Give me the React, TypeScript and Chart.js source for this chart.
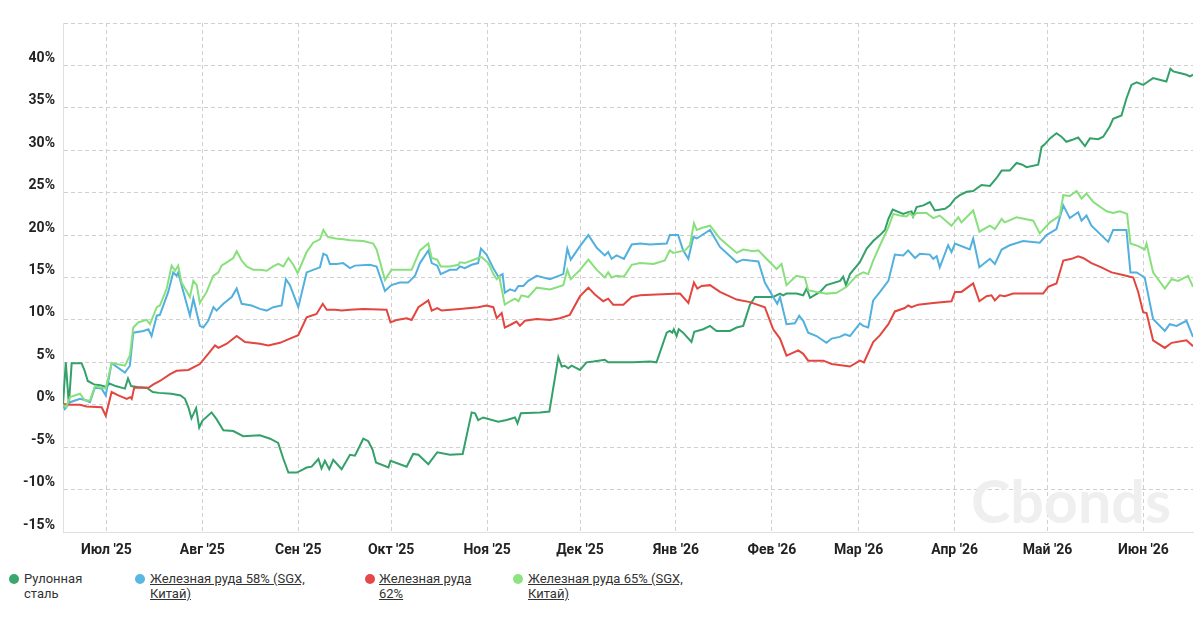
import React, { useEffect, useRef } from "react";
import { Chart, registerables } from "chart.js";

Chart.register(...registerables);

// x values are day offsets from 17 Jun 2025 (day 0) to 17 Jun 2026 (day 365)
const xMin = 0;
const xMax = 365;
const monthTickDays = [14, 45, 76, 106, 137, 167, 198, 229, 257, 288, 318, 349];
const monthTickLabels = ["Июл '25", "Авг '25", "Сен '25", "Окт '25", "Ноя '25", "Дек '25", "Янв '26", "Фев '26", "Мар '26", "Апр '26", "Май '26", "Июн '26"];
const yMin = -15;
const yMax = 45;
const yStep = 5;

const seriesNames = ["Рулонная сталь", "Железная руда 58% (SGX, Китай)", "Железная руда 62%", "Железная руда 65% (SGX, Китай)"];
const legendLines = [["Рулонная", "сталь"], ["Железная руда 58% (SGX,", "Китай)"], ["Железная руда", "62%"], ["Железная руда 65% (SGX,", "Китай)"]];
const lineColors = ["#34a06a", "#52b0de", "#e2463f", "#88e07c"];
const markerColors = ["#3aa86e", "#5ab6e2", "#e6484a", "#8de37f"];

const steelDays = [0, 0.9, 1.9, 2.8, 6, 7, 8, 10, 12, 14, 15, 17, 20, 21, 22, 24, 27, 29, 31, 35, 38, 39.4, 40.5, 41.5, 43, 44, 45, 48, 49.6, 51.8, 55, 58.2, 63.6, 66.9, 69.5, 71.2, 72.8, 75.5, 77.1, 78.7, 80.3, 82.5, 83.5, 84.6, 86, 87.3, 90, 92.7, 94.3, 97, 98.6, 100, 101.1, 105.1, 105.8, 111, 113.1, 114.8, 118, 120.9, 125, 129.1, 132, 133.1, 134.1, 135.7, 140.6, 143.3, 146, 146.8, 147.9, 154.1, 157.1, 160, 161.1, 162.1, 163.2, 164.3, 167, 169.1, 171.3, 175, 176.1, 184.2, 189.6, 191.7, 195, 196, 196.8, 197.3, 198.2, 198.9, 200.3, 203, 203.9, 206.8, 209, 211.1, 215.4, 217.6, 219.7, 221.9, 223.5, 229.4, 231.6, 232.6, 233.7, 236.9, 239.1, 240.2, 241.3, 244.5, 246.6, 251, 252, 252.9, 254.2, 257.4, 259.6, 261.7, 263.9, 265.5, 266.6, 268, 271.4, 273, 274.1, 274.6, 275.7, 277.9, 280, 281.6, 284.9, 286.5, 288.1, 289.7, 291.9, 294, 296.7, 299.4, 301.5, 303.2, 305.8, 308, 309.9, 311.2, 315, 316.1, 317.1, 318.8, 320.9, 322.5, 324.1, 325.8, 327.9, 330.1, 331.7, 334.4, 336, 338.1, 339.2, 341.9, 343.5, 345.1, 346.8, 348.9, 350.5, 352.1, 356.4, 357.7, 358.6, 360.7, 362.9, 364, 365];
const steelValues = [0, 5.0, 0, 4.9, 4.9, 4.0, 2.8, 2.4, 2.3, 2.1, 2.5, 2.2, 1.9, 3.1, 2.2, 2.1, 2.0, 1.5, 1.4, 1.3, 1.1, 0.7, -0.3, -1.6, -0.4, -2.7, -1.9, -0.9, -1.7, -3.0, -3.1, -3.7, -3.6, -4.0, -4.5, -6.4, -8.0, -8.0, -7.7, -7.4, -7.3, -6.4, -7.5, -6.6, -7.6, -6.5, -7.6, -5.9, -6.0, -4.0, -4.3, -5.3, -6.8, -7.4, -6.6, -7.3, -5.8, -5.9, -7.0, -5.6, -5.9, -5.8, -0.9, -1.0, -1.8, -1.5, -2.0, -1.8, -1.5, -2.2, -1.0, -0.9, -0.8, 5.6, 4.5, 4.6, 4.3, 4.6, 4.1, 5.0, 5.1, 5.3, 5.0, 5.0, 5.1, 5.0, 8.5, 8.7, 8.5, 8.9, 8.1, 8.9, 8.5, 7.4, 8.6, 8.9, 9.3, 8.7, 8.7, 9.1, 9.3, 11.8, 12.7, 12.7, 13.1, 12.9, 13.1, 13.1, 12.9, 13.7, 12.6, 13.3, 14.1, 14.6, 15.1, 14.1, 15.4, 16.8, 18.4, 19.3, 20.0, 20.6, 21.9, 23.0, 22.5, 22.7, 22.8, 22.2, 23.3, 23.5, 23.9, 22.9, 23.1, 23.5, 24.3, 24.7, 25.1, 25.2, 25.9, 25.8, 26.7, 27.6, 27.6, 28.5, 28.3, 28.0, 28.3, 30.4, 30.7, 31.4, 32.0, 31.6, 31.0, 31.2, 31.5, 30.5, 31.4, 31.3, 31.6, 32.8, 33.7, 34.1, 36.1, 37.7, 38.0, 37.7, 38.1, 38.5, 38.1, 39.6, 39.3, 39.1, 38.9, 38.7, 38.9];

const ore58Days = [0, 0.6, 2.3, 5.5, 7.6, 8.7, 10.3, 12.5, 13.8, 15.7, 20, 21.6, 22.7, 26, 27.6, 28.6, 30.3, 31.3, 34, 35.6, 36.7, 37.2, 38.3, 41, 42.1, 44.2, 45.3, 46.9, 48.6, 49.6, 51.8, 54.5, 56.1, 57.7, 60.9, 63.6, 65.8, 67.9, 70.6, 72, 73.3, 76, 78.7, 80.8, 83, 84.1, 85.2, 86.2, 88.4, 90.5, 92.7, 94.3, 99.1, 101.3, 104, 106.1, 108.8, 111.5, 113.7, 115.3, 118, 119.1, 120.9, 122, 125, 127.1, 128.2, 129.8, 132, 134.1, 135, 136.8, 139, 140.6, 142, 142.7, 144.4, 146, 147.1, 148.7, 150.3, 153, 157.3, 161.6, 162.9, 164, 167, 169.7, 172.4, 175, 176.1, 177.2, 178.8, 181.2, 183.7, 186.4, 189.6, 195, 196, 198.7, 200.3, 202, 203.6, 204.7, 209, 212.2, 217.6, 219.7, 221.9, 224.6, 226.7, 229.4, 230.7, 231.6, 233.7, 236.4, 237.8, 239.1, 240.7, 243.4, 246.6, 248.3, 250.9, 252.6, 254.2, 257.4, 258.5, 260.1, 261.7, 263.9, 266.6, 268.7, 271.4, 273, 275.2, 276.8, 280, 281.1, 282.2, 283.2, 285.9, 287, 288.1, 292.9, 294, 296, 299.4, 301, 303.2, 305.8, 310.1, 315.5, 317.7, 320.9, 323.1, 325.2, 327.9, 329, 330.6, 332.2, 337.6, 339.2, 343.5, 344.8, 346.8, 349.4, 352.1, 355.9, 357.5, 359.7, 362.9, 365];
const ore58Values = [0, -0.5, 0.3, 0.7, 0.5, 0.3, 2.0, 1.9, 1.1, 4.9, 3.8, 4.6, 8.5, 8.7, 8.9, 8.1, 10.5, 10.6, 13.3, 15.6, 15.2, 15.6, 14.1, 10.5, 12.5, 9.3, 9.1, 9.9, 11.5, 11.1, 11.9, 12.7, 13.7, 11.9, 11.7, 11.3, 11.1, 11.5, 11.7, 14.8, 14.1, 11.5, 15.6, 15.9, 16.2, 17.8, 17.6, 16.6, 16.6, 16.7, 16.1, 16.4, 16.5, 16.3, 13.4, 14.1, 14.4, 14.4, 15.2, 16.7, 18.2, 16.7, 16.4, 15.4, 15.9, 15.9, 16.3, 16.1, 16.5, 16.7, 18.4, 17.7, 16.1, 15.1, 15.4, 13.2, 13.6, 13.4, 14.0, 14.0, 14.6, 15.2, 14.8, 15.4, 18.4, 17.1, 18.7, 20.0, 18.5, 17.6, 18.0, 17.2, 17.6, 17.2, 18.9, 19.0, 18.9, 19.0, 20.0, 20.0, 18.2, 17.2, 19.8, 19.6, 20.6, 18.6, 16.8, 17.1, 17.0, 16.9, 14.4, 12.7, 11.9, 12.7, 9.5, 9.6, 10.5, 9.9, 8.5, 8.1, 7.3, 7.8, 8.0, 8.3, 8.1, 9.6, 9.3, 9.1, 12.3, 13.3, 14.6, 17.7, 17.6, 18.2, 17.3, 17.8, 17.7, 17.2, 17.5, 16.2, 18.8, 18.0, 19.0, 18.3, 19.6, 16.2, 17.2, 16.6, 18.3, 18.8, 19.3, 19.1, 20.0, 20.7, 23.5, 22.0, 22.7, 21.7, 22.3, 21.1, 19.2, 20.6, 20.6, 15.6, 15.6, 15.0, 10.1, 8.7, 9.5, 9.3, 9.9, 8.0];

const ore62Days = [0, 2.3, 5.5, 7.6, 12.5, 13.8, 15.7, 17.9, 20.6, 21.7, 22.2, 23, 27.6, 29.2, 31.3, 34.6, 36.7, 40.5, 44.2, 46.9, 49.1, 50.2, 52.9, 56.1, 58.8, 63.6, 66.3, 70.1, 73.3, 76, 78.7, 81.9, 83.9, 85.2, 87.9, 90, 92.7, 97, 104.5, 105.8, 107.8, 111, 112.6, 114.8, 118, 119.1, 120.9, 122.3, 128.2, 134.1, 136.8, 139, 140.1, 141.7, 142.7, 144.4, 146.5, 147.6, 149.2, 153, 157.3, 160.5, 163.7, 167, 169.7, 171.8, 174.5, 176.1, 177.7, 181, 183.7, 186.4, 191.7, 199.3, 202, 203.8, 204.9, 206.3, 209, 212.2, 217.6, 221.9, 226.7, 229.4, 231.6, 233.7, 237.5, 239.1, 240.7, 245.6, 248.3, 254.2, 257.4, 258.7, 261.7, 263.9, 266.6, 268.7, 271.9, 273, 274.1, 276.2, 281.1, 287, 288.1, 290.2, 294, 296, 298.3, 299.9, 301, 302.6, 304.2, 306.9, 316.6, 318.2, 320.9, 323.1, 325.8, 327.9, 329.5, 332.2, 335.4, 338.7, 342.4, 345.7, 347.3, 348.9, 350, 352.1, 355.9, 358.1, 362.9, 365];
const ore62Values = [0.1, 0, 0, -0.2, -0.3, -1.3, 1.5, 1.1, 0.7, 0.9, 0.7, 2.0, 2.0, 2.4, 2.8, 3.6, 4.0, 4.1, 4.8, 6.0, 7.0, 6.7, 7.2, 8.1, 7.4, 7.2, 7.0, 7.3, 7.8, 8.2, 10.3, 10.7, 11.9, 11.2, 11.2, 11.1, 11.2, 11.3, 11.2, 9.7, 10.0, 10.2, 10.0, 11.5, 12.3, 11.1, 11.4, 11.1, 11.3, 11.5, 11.7, 11.5, 10.2, 10.8, 9.1, 9.4, 9.8, 9.3, 9.9, 10.1, 10.0, 10.2, 10.6, 12.8, 13.8, 13.0, 12.2, 12.5, 11.8, 11.8, 12.7, 12.9, 13.0, 13.1, 12.0, 14.4, 13.7, 14.0, 14.1, 13.3, 12.4, 12.1, 11.5, 8.9, 7.8, 5.8, 6.4, 6.0, 5.2, 5.2, 4.8, 4.5, 5.2, 5.0, 7.4, 8.2, 9.5, 11.0, 11.4, 11.7, 11.5, 11.8, 12.0, 12.2, 13.3, 13.3, 14.3, 12.2, 12.8, 12.9, 12.3, 12.9, 12.8, 13.1, 13.1, 13.9, 14.3, 17.0, 17.2, 17.5, 17.3, 16.7, 16.2, 15.6, 15.3, 15.0, 13.3, 10.9, 10.8, 7.6, 6.7, 7.3, 7.6, 6.9];

const ore65Days = [0, 1, 2.3, 5.5, 7.1, 8.7, 10.3, 13.8, 15.7, 17.3, 20, 21.6, 22.7, 24.3, 27, 28.1, 30.3, 31.3, 33.5, 35.1, 36.2, 37.2, 38.3, 41, 42.1, 43.2, 44.2, 46.4, 48.5, 50.2, 51.2, 53.4, 55, 56.1, 57.7, 59.3, 61.5, 63.6, 65.8, 67.9, 69.5, 71.2, 72.8, 74.4, 75.8, 78.7, 80.8, 83, 84.1, 85.5, 88, 90.5, 92.7, 97, 100.2, 101.3, 104, 106.1, 112.6, 115.3, 118, 119.1, 120.9, 122, 125, 127.7, 128.2, 129.8, 132, 134.1, 135.2, 137.4, 139, 140.1, 140.9, 142.7, 144.4, 146, 147.1, 148.1, 150.3, 153, 157.3, 161.6, 162.9, 164, 167, 169.7, 172.4, 175, 176.1, 177.2, 178.8, 181.2, 183.7, 186.4, 190.7, 194.4, 196, 197.1, 200.9, 202.5, 203.8, 204.7, 206.8, 209, 212.2, 217.6, 219.7, 223, 224.6, 226.2, 230.5, 232.1, 233.7, 236.9, 239.6, 240.7, 243.4, 246.6, 249.9, 253.1, 256.3, 258.5, 260.1, 261.7, 263.9, 266.6, 268.2, 270.3, 272.5, 273.5, 274.6, 275.7, 278.9, 281.1, 283.2, 287, 289.2, 290.2, 294, 296, 299.4, 301, 303.2, 304.2, 308, 313.4, 315.5, 318.8, 322, 323.1, 325.2, 327.4, 329, 330.6, 332.8, 337.1, 339.2, 341.4, 343.7, 344.8, 347.3, 349.4, 350, 352.1, 355.9, 358.1, 360.2, 363.4, 365];
const ore65Values = [0, -0.3, 0.9, 1.3, 0.5, 0.5, 2.2, 1.9, 4.9, 4.8, 4.6, 5.8, 9.1, 9.7, 10.0, 9.5, 11.5, 11.7, 13.7, 16.4, 15.8, 16.4, 14.4, 12.7, 14.6, 14.1, 12.0, 13.3, 15.2, 15.6, 16.4, 16.9, 17.3, 18.1, 17.0, 16.3, 15.9, 15.9, 15.8, 16.3, 16.6, 16.3, 17.3, 16.5, 15.5, 18.0, 19.1, 19.5, 20.6, 19.8, 19.6, 19.5, 19.4, 19.3, 19.0, 18.3, 14.7, 15.9, 15.9, 18.2, 19.0, 17.3, 17.1, 16.3, 16.3, 16.5, 16.8, 16.7, 17.0, 17.3, 17.4, 16.7, 15.4, 14.8, 15.1, 11.8, 12.2, 12.5, 12.2, 12.9, 12.7, 13.8, 13.6, 14.1, 15.9, 14.8, 15.9, 17.1, 15.9, 15.0, 15.6, 15.0, 15.2, 15.1, 16.5, 16.7, 16.6, 17.0, 18.2, 17.9, 18.2, 18.8, 21.4, 20.6, 20.9, 21.1, 19.6, 17.9, 18.3, 18.1, 18.2, 17.6, 16.0, 16.6, 14.1, 15.2, 15.0, 13.5, 13.3, 13.1, 13.2, 13.9, 15.2, 15.6, 15.4, 17.0, 18.8, 20.9, 22.5, 22.3, 22.2, 22.6, 22.2, 22.6, 22.6, 22.0, 22.3, 21.1, 22.1, 21.5, 22.9, 20.4, 21.1, 20.7, 21.9, 21.5, 22.1, 21.7, 20.2, 21.5, 22.3, 24.7, 24.6, 25.2, 24.3, 24.9, 23.9, 22.8, 22.6, 22.8, 22.5, 19.0, 18.7, 18.3, 19.0, 15.6, 13.7, 14.8, 14.6, 15.2, 13.9];

const seriesDays = [steelDays, ore58Days, ore62Days, ore65Days];
const seriesValues = [steelValues, ore58Values, ore62Values, ore65Values];
const legendMarkerX = [14, 140, 370, 518];
const legendTextX = [24, 150, 379, 528];
const legendUnderline = [false, true, true, true];

const watermarkPlugin = {
  id: "watermark",
  beforeDatasetsDraw(chart: any) {
    const ctx = chart.ctx;
    ctx.save();
    ctx.font = "bold 60px Lato, 'DejaVu Sans', sans-serif";
    ctx.fillStyle = "#efefef";
    ctx.textBaseline = "alphabetic";
    const w = ctx.measureText("Cbonds").width;
    ctx.translate(971, 523);
    ctx.scale(200 / w, 1);
    ctx.fillText("Cbonds", 0, 0);
    ctx.restore();
  },
};

export default function App() {
  const ref = useRef<HTMLCanvasElement>(null);

  useEffect(() => {
    if (!ref.current) return;
    const datasets = seriesNames.map((name, i) => ({
      label: name,
      data: seriesDays[i].map((d, j) => ({ x: d, y: seriesValues[i][j] })),
      borderColor: lineColors[i],
      backgroundColor: lineColors[i],
      borderWidth: 2,
      pointRadius: 0,
      tension: 0,
      fill: false,
      order: 3 - i,
    }));
    const chart = new Chart(ref.current, {
      type: "line",
      data: { datasets },
      plugins: [watermarkPlugin],
      options: {
        animation: false,
        responsive: false,
        layout: { padding: { left: 0, top: 23, right: 10, bottom: 0 } },
        plugins: { legend: { display: false }, tooltip: { enabled: false } },
        scales: {
          x: {
            type: "linear",
            min: xMin,
            max: xMax,
            afterBuildTicks: (scale: any) => {
              scale.ticks = monthTickDays.map((v) => ({ value: v }));
            },
            afterFit: (scale: any) => {
              scale.height = 28;
            },
            ticks: {
              autoSkip: false,
              maxRotation: 0,
              padding: 10,
              color: "#222",
              font: { family: "Roboto", size: 14, weight: "bold" },
              callback: (v: any) => {
                const idx = monthTickDays.indexOf(Number(v));
                return idx >= 0 ? monthTickLabels[idx] : "";
              },
            },
            grid: { color: "#d0d0d0", lineWidth: 1, drawTicks: false },
            border: { display: true, color: "#e0e0e0", dash: [4, 3] },
          },
          y: {
            type: "linear",
            min: yMin,
            max: yMax,
            afterFit: (scale: any) => {
              scale.width = 63;
            },
            ticks: {
              stepSize: yStep,
              padding: 8,
              labelOffset: -7,
              color: "#222",
              font: { family: "Roboto", size: 14, weight: "bold" },
              callback: (v: any) => (Number(v) === yMax ? "" : `${v}%`),
            },
            grid: { color: "#d0d0d0", lineWidth: 1, drawTicks: false },
            border: { display: true, color: "#e0e0e0", dash: [4, 3] },
          },
        },
      },
    } as any);
    return () => chart.destroy();
  }, []);

  return (
    <div style={{ position: "absolute", left: 0, top: 0, width: 1203, height: 620, background: "#fff", fontFamily: "Roboto, sans-serif" }}>
      <canvas ref={ref} width={1203} height={560} style={{ display: "block", width: 1203, height: 560 }} />
      {seriesNames.map((name, i) => (
        <div key={name}>
          <div
            style={{
              position: "absolute",
              left: legendMarkerX[i] - 5,
              top: 574,
              width: 10,
              height: 10,
              borderRadius: 5,
              background: markerColors[i],
            }}
          />
          <div
            style={{
              position: "absolute",
              left: legendTextX[i],
              top: 571,
              fontSize: 13,
              lineHeight: "15px",
              color: "#333",
              whiteSpace: "nowrap",
              textDecoration: legendUnderline[i] ? "underline" : "none",
            }}
          >
            {legendLines[i].map((ln, k) => (
              <div key={k}>{ln}</div>
            ))}
          </div>
        </div>
      ))}
    </div>
  );
}
